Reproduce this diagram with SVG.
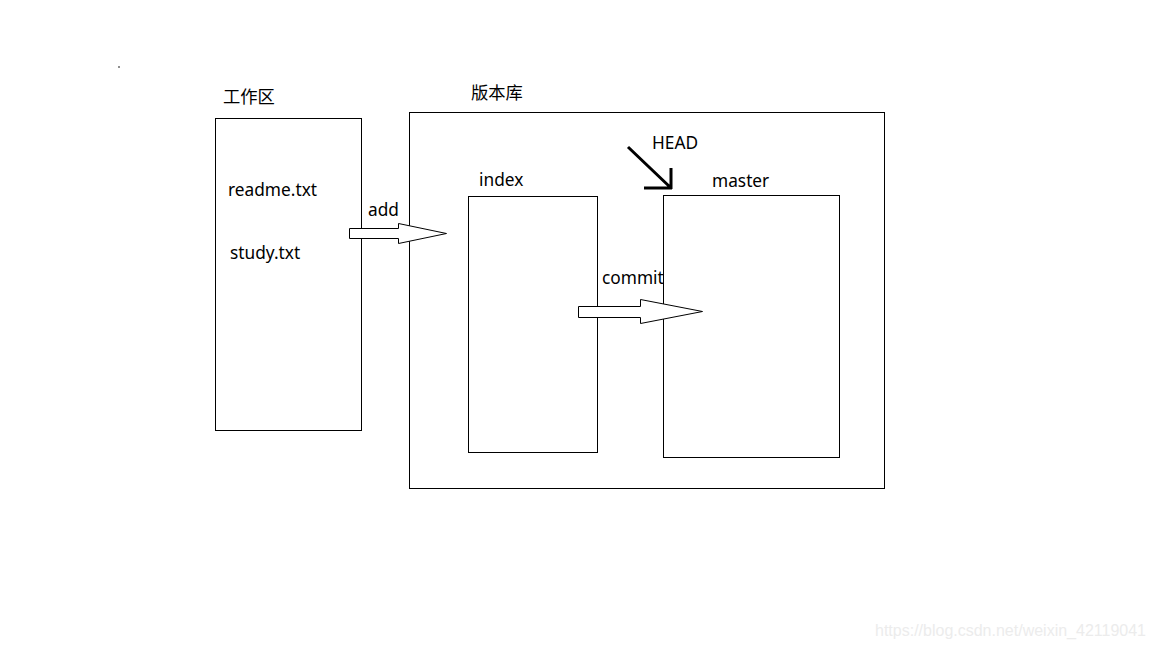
<svg xmlns="http://www.w3.org/2000/svg" width="1152" height="648" viewBox="0 0 1152 648">
<style>
.box{fill:none;stroke:#000;stroke-width:1}
.t{font-family:"Noto Sans","Liberation Sans","Noto Sans CJK SC",sans-serif;font-size:17.3px;fill:#000}
.arr{fill:#fff;stroke:#000;stroke-width:1}
</style>
<rect width="1152" height="648" fill="#fff"/>
<circle cx="119" cy="67" r="0.8" fill="#000"/>
<g id="workspace">
<rect class="box" x="215.5" y="118.5" width="146" height="312"/>
<text class="t" x="223" y="103">工作区</text>
<text class="t" x="228" y="196">readme.txt</text>
<text class="t" x="230" y="259">study.txt</text>
</g>
<g id="repository">
<rect class="box" x="409.5" y="112.5" width="475" height="376"/>
<text class="t" x="471" y="99">版本库</text>
</g>
<g id="index">
<rect class="box" x="468.5" y="196.5" width="129" height="256"/>
<text class="t" x="479" y="186">index</text>
</g>
<g id="master">
<rect class="box" x="663.5" y="195.5" width="176" height="262"/>
<text class="t" x="712" y="187">master</text>
</g>
<g id="head">
<text class="t" x="652" y="149">HEAD</text>
</g>
<g id="connectors">
<polygon class="arr" points="349.5,228.5 398.5,228.5 398.5,223.5 446.5,233.5 398.5,243.5 398.5,238.5 349.5,238.5"/>
<text class="t" x="368" y="216">add</text>
<polygon class="arr" points="578.5,306.5 640.5,306.5 640.5,299.5 702.5,311.5 640.5,323.5 640.5,317.5 578.5,317.5"/>
<text class="t" x="602" y="284">commit</text>
<path d="M628,147 L671,188 M671,168 L671,189 M644,188 L672,188" fill="none" stroke="#000" stroke-width="3"/>
</g>
<text x="875" y="636" font-family="'Liberation Sans',sans-serif" font-size="16" fill="#ececec">https://blog.csdn.net/weixin_42119041</text>
</svg>
